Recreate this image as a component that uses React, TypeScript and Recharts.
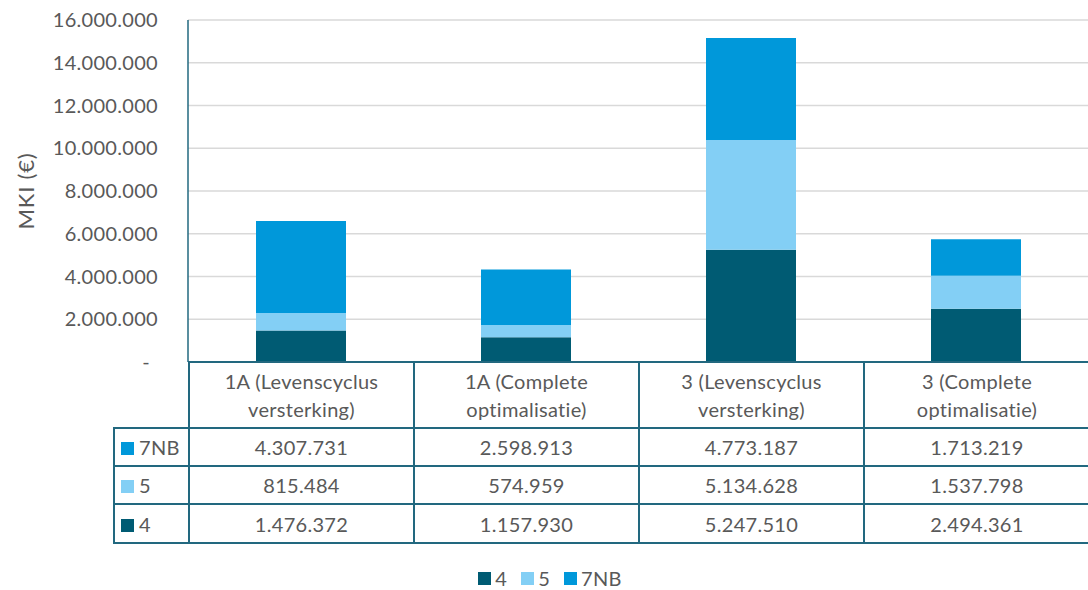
import React from 'react';
import { BarChart, Bar, XAxis, YAxis, CartesianGrid, Label } from 'recharts';

// categories (x axis / table columns)
const categories = [
  '1A (Levenscyclus versterking)',
  '1A (Complete optimalisatie)',
  '3 (Levenscyclus versterking)',
  '3 (Complete optimalisatie)',
];

// series values (MKI in euro)
const seriesNames = ['4', '5', '7NB'];
const values4 = [1476372, 1157930, 5247510, 2494361];
const values5 = [815484, 574959, 5134628, 1537798];
const values7NB = [4307731, 2598913, 4773187, 1713219];

const yTicks = [0, 2000000, 4000000, 6000000, 8000000, 10000000, 12000000, 14000000, 16000000];

const colors: Record<string, string> = {
  '4': '#005B73',
  '5': '#83CFF5',
  '7NB': '#0098DA',
};

const TEXT = '#595959';
const LINE = '#22687F';
const FONT = 'Lato, "Open Sans", sans-serif';
const FS = 20;
const LS = 0.3;

const W = 1088;
const PLOT_LEFT = 188;
const PLOT_TOP = 20;
const PLOT_BOTTOM = 362;
const FIRST_COL = 75;

const fmt = (n: number) =>
  n === 0 ? '-' : String(Math.round(n)).replace(/\B(?=(\d{3})+(?!\d))/g, '.');

const data = categories.map((name, i) => ({
  name,
  '4': values4[i],
  '5': values5[i],
  '7NB': values7NB[i],
}));

const tableRows = [
  { key: '7NB', values: values7NB },
  { key: '5', values: values5 },
  { key: '4', values: values4 },
];

const YTick = (props: any) => {
  const { y, payload } = props;
  const v = payload.value as number;
  return (
    <text
      x={v === 0 ? 150 : 158}
      y={y}
      dy={7}
      textAnchor="end"
      fill={TEXT}
      fontSize={FS}
      fontFamily={FONT}
      style={{ letterSpacing: LS }}
    >
      {fmt(v)}
    </text>
  );
};

const splitLabel = (s: string) => {
  const i = s.lastIndexOf(' ');
  return [s.slice(0, i), s.slice(i + 1)];
};

export default function App() {
  const colW = (W - PLOT_LEFT) / categories.length;
  const border = `2px solid ${LINE}`;
  const cell: React.CSSProperties = {
    border,
    textAlign: 'center',
    padding: 0,
    color: TEXT,
    fontSize: FS,
    letterSpacing: LS,
  };

  return (
    <div
      style={{
        position: 'absolute',
        left: 0,
        top: 0,
        width: W,
        height: 590,
        background: '#fff',
        fontFamily: FONT,
        overflow: 'hidden',
      }}
    >
      <BarChart
        width={W}
        height={PLOT_BOTTOM + 20}
        data={data}
        margin={{ top: PLOT_TOP, right: 0, left: 0, bottom: 19 }}
        barSize={90}
      >
        <CartesianGrid vertical={false} stroke="#D9D9D9" strokeWidth={1.3} />
        <XAxis
          dataKey="name"
          tick={false}
          tickLine={false}
          height={1}
          axisLine={{ stroke: LINE, strokeWidth: 2 }}
        />
        <YAxis
          width={PLOT_LEFT}
          domain={[0, 16000000]}
          ticks={yTicks}
          interval={0}
          tickLine={false}
          tick={<YTick />}
          axisLine={{ stroke: LINE, strokeWidth: 1.5 }}
        >
          <Label
            content={(p: any) => {
              const vb = p.viewBox || {};
              const cy = (vb.y ?? PLOT_TOP) + (vb.height ?? 0) / 2;
              return (
                <text
                  transform={`translate(34,${cy}) rotate(-90)`}
                  textAnchor="middle"
                  fill={TEXT}
                  fontSize={22}
                  fontFamily={FONT}
                  style={{ letterSpacing: 0.8 }}
                >
                  MKI (€)
                </text>
              );
            }}
          />
        </YAxis>
        {seriesNames.map((s) => (
          <Bar key={s} dataKey={s} stackId="a" fill={colors[s]} isAnimationActive={false} />
        ))}
      </BarChart>

      {/* data table */}
      <table
        style={{
          position: 'absolute',
          left: PLOT_LEFT - FIRST_COL,
          top: PLOT_BOTTOM - 1,
          borderCollapse: 'collapse',
          tableLayout: 'fixed',
          width: FIRST_COL + colW * categories.length,
          fontFamily: FONT,
        }}
      >
        <colgroup>
          <col style={{ width: FIRST_COL }} />
          {categories.map((c) => (
            <col key={c} style={{ width: colW }} />
          ))}
        </colgroup>
        <tbody>
          <tr style={{ height: 66 }}>
            <td style={{ border: 'none', borderRight: border }} />
            {categories.map((c, i) => {
              const [a, b] = splitLabel(c);
              return (
                <td
                  key={c}
                  style={{
                    ...cell,
                    lineHeight: '28px',
                    borderRight: i === categories.length - 1 ? 'none' : border,
                  }}
                >
                  {a}
                  <br />
                  {b}
                </td>
              );
            })}
          </tr>
          {tableRows.map((r, ri) => (
            <tr key={r.key} style={{ height: ri === 2 ? 39 : 38 }}>
              <td style={{ ...cell, textAlign: 'left', paddingLeft: 6 }}>
                <span
                  style={{
                    display: 'inline-block',
                    width: 13,
                    height: 13,
                    background: colors[r.key],
                    marginRight: 5,
                  }}
                />
                {r.key}
              </td>
              {r.values.map((v, i) => (
                <td
                  key={i}
                  style={{
                    ...cell,
                    borderRight: i === r.values.length - 1 ? 'none' : border,
                  }}
                >
                  {fmt(v)}
                </td>
              ))}
            </tr>
          ))}
        </tbody>
      </table>

      {/* legend */}
      <div
        style={{
          position: 'absolute',
          top: 566,
          left: 0,
          width: W + 12,
          display: 'flex',
          justifyContent: 'center',
          gap: 14,
          color: TEXT,
          fontSize: FS,
          letterSpacing: LS,
          lineHeight: '24px',
        }}
      >
        {seriesNames.map((s) => (
          <div key={s} style={{ display: 'flex', alignItems: 'center' }}>
            <span
              style={{
                display: 'inline-block',
                width: 13,
                height: 13,
                background: colors[s],
                marginRight: 4,
              }}
            />
            {s}
          </div>
        ))}
      </div>
    </div>
  );
}
